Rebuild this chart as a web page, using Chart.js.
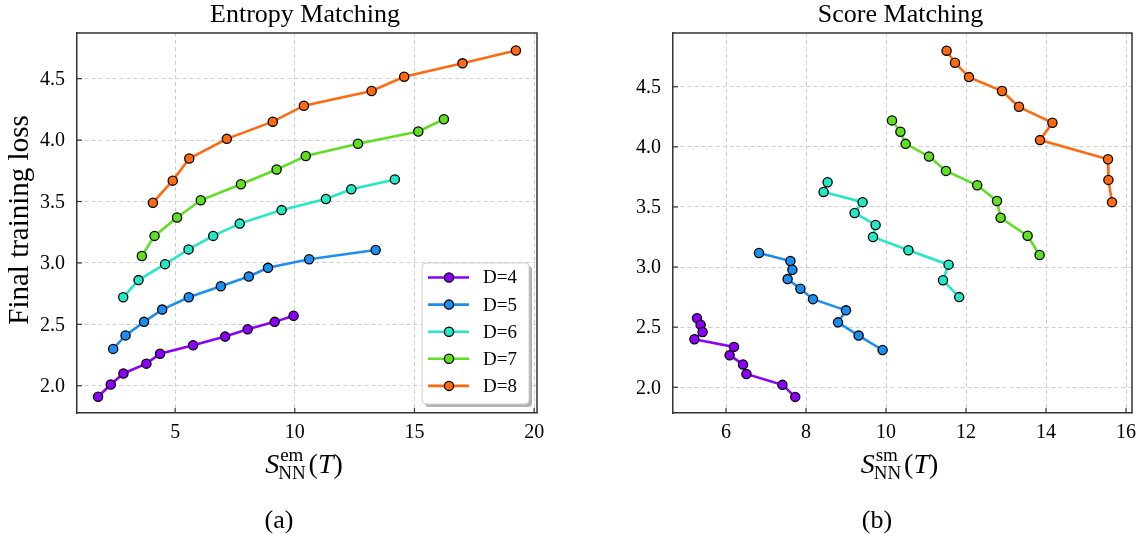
<!DOCTYPE html>
<html>
<head>
<meta charset="utf-8">
<script src="https://cdn.jsdelivr.net/npm/chart.js@4.4.0/dist/chart.umd.min.js"></script>
<style>
  html, body { margin: 0; padding: 0; background: #fff; }
  #wrap { position: relative; width: 1145px; height: 542px; }
  canvas { position: absolute; top: 0; }
</style>
</head>
<body>
<div id="wrap">
  <canvas id="chartEm" width="572" height="542" style="left:0"></canvas>
  <canvas id="chartSm" width="573" height="542" style="left:572px"></canvas>
</div>
<script>
// series names and colours (D = depth)
const seriesLabels = ["D=4", "D=5", "D=6", "D=7", "D=8"];
const seriesColors = ["#8a00fb", "#1b8fef", "#22e8c6", "#5fdf22", "#ff6a10"];

// (a) entropy matching: S_NN^em(T) vs final loss
const emX4 = [1.78, 2.31, 2.84, 3.80, 4.37, 5.75, 7.09, 8.03, 9.16, 9.95];
const emY4 = [1.91, 2.01, 2.10, 2.18, 2.26, 2.33, 2.40, 2.46, 2.52, 2.57];
const emX5 = [2.41, 2.93, 3.70, 4.46, 5.57, 6.91, 8.08, 8.88, 10.60, 13.38];
const emY5 = [2.30, 2.41, 2.52, 2.62, 2.72, 2.81, 2.89, 2.96, 3.03, 3.105];
const emX6 = [2.83, 3.47, 4.58, 5.56, 6.59, 7.70, 9.45, 11.30, 12.36, 14.18];
const emY6 = [2.72, 2.86, 2.99, 3.11, 3.22, 3.32, 3.43, 3.52, 3.60, 3.68];
const emX7 = [3.61, 4.14, 5.08, 6.07, 7.75, 9.24, 10.46, 12.64, 15.16, 16.23];
const emY7 = [3.056, 3.22, 3.37, 3.51, 3.64, 3.76, 3.87, 3.97, 4.07, 4.17];
const emX8 = [4.07, 4.90, 5.59, 7.16, 9.08, 10.38, 13.21, 14.57, 17.01, 19.24];
const emY8 = [3.49, 3.67, 3.85, 4.01, 4.15, 4.28, 4.40, 4.516, 4.625, 4.73];

// (b) score matching: S_NN^sm(T) vs final loss
const smX4 = [5.275, 5.365, 5.415, 5.21, 6.20, 6.09, 6.425, 6.51, 7.41, 7.73];
const smY4 = [2.575, 2.52, 2.46, 2.40, 2.336, 2.267, 2.19, 2.11, 2.02, 1.92];
const smX5 = [6.825, 7.61, 7.66, 7.54, 7.86, 8.175, 9.0, 8.80, 9.315, 9.915];
const smY5 = [3.117, 3.05, 2.978, 2.90, 2.82, 2.733, 2.64, 2.54, 2.43, 2.31];
const smX6 = [8.54, 8.44, 9.415, 9.215, 9.74, 9.675, 10.56, 11.565, 11.425, 11.83];
const smY6 = [3.706, 3.625, 3.54, 3.45, 3.35, 3.25, 3.14, 3.02, 2.89, 2.75];
const smX7 = [10.15, 10.36, 10.49, 11.075, 11.50, 12.28, 12.775, 12.865, 13.54, 13.84];
const smY7 = [4.22, 4.125, 4.025, 3.92, 3.80, 3.68, 3.55, 3.41, 3.26, 3.10];
const smX8 = [11.515, 11.725, 12.075, 12.90, 13.325, 14.16, 13.85, 15.55, 15.56, 15.65];
const smY8 = [4.80, 4.70, 4.58, 4.464, 4.333, 4.20, 4.056, 3.897, 3.725, 3.54];

// tick values
const emXTicks = [5, 10, 15, 20];
const smXTicks = [6, 8, 10, 12, 14, 16];
const yTicks = [2.0, 2.5, 3.0, 3.5, 4.0, 4.5];

const FONT = '"Liberation Serif", "Times New Roman", serif';
Chart.defaults.font.family = FONT;

function buildDatasets(xs, ys) {
    return xs.map((xArr, i) => ({
        label: seriesLabels[i],
        data: xArr.map((x, j) => ({ x: x, y: ys[i][j] })),
        borderColor: seriesColors[i],
        backgroundColor: seriesColors[i],
        borderWidth: 2.6,
        pointRadius: 4.6,
        pointBorderWidth: 1.3,
        pointBorderColor: "#000",
        pointBackgroundColor: seriesColors[i],
        tension: 0,
    }));
}

// S_NN^{sup}(T) with sub/superscripts
function drawMathLabel(ctx, cx, base, sup) {
    const big = `28px ${FONT}`;
    const bigIt = `italic 28px ${FONT}`;
    const small = `19px ${FONT}`;
    ctx.font = bigIt;
    const wS = ctx.measureText("S").width;
    const wT = ctx.measureText("T").width;
    ctx.font = small;
    const wScript = Math.max(ctx.measureText("NN").width, ctx.measureText(sup).width);
    ctx.font = big;
    const wL = ctx.measureText("(").width;
    const wR = ctx.measureText(")").width;
    const total = wS + wScript + 2 + wL + wT + wR;
    let x = cx - total / 2;
    ctx.fillStyle = "#000";
    ctx.textAlign = "left";
    ctx.textBaseline = "alphabetic";
    ctx.font = bigIt;
    ctx.fillText("S", x, base);
    x += wS;
    ctx.font = small;
    ctx.fillText("NN", x - 1, base + 6);
    ctx.fillText(sup, x + 1, base - 12);
    x += wScript + 2;
    ctx.font = big;
    ctx.fillText("(", x, base);
    x += wL;
    ctx.font = bigIt;
    ctx.fillText("T", x, base);
    x += wT;
    ctx.font = big;
    ctx.fillText(")", x, base);
}

function roundRectPath(ctx, x, y, w, h, r) {
    ctx.beginPath();
    ctx.moveTo(x + r, y);
    ctx.lineTo(x + w - r, y);
    ctx.quadraticCurveTo(x + w, y, x + w, y + r);
    ctx.lineTo(x + w, y + h - r);
    ctx.quadraticCurveTo(x + w, y + h, x + w - r, y + h);
    ctx.lineTo(x + r, y + h);
    ctx.quadraticCurveTo(x, y + h, x, y + h - r);
    ctx.lineTo(x, y + r);
    ctx.quadraticCurveTo(x, y, x + r, y);
    ctx.closePath();
}

function drawLegend(ctx, chart) {
    const x0 = 422, y0 = 263, w = 107, h = 141;
    ctx.save();
    ctx.fillStyle = "rgba(0,0,0,0.3)";
    roundRectPath(ctx, x0 + 3, y0 + 3, w, h, 4);
    ctx.fill();
    ctx.fillStyle = "#fff";
    roundRectPath(ctx, x0, y0, w, h, 4);
    ctx.fill();
    ctx.strokeStyle = "#d0d0d0";
    ctx.lineWidth = 1;
    ctx.stroke();
    chart.data.datasets.forEach((ds, i) => {
        const yy = 277.5 + i * 27.1;
        ctx.strokeStyle = ds.borderColor;
        ctx.lineWidth = 2.6;
        ctx.beginPath();
        ctx.moveTo(428, yy);
        ctx.lineTo(469, yy);
        ctx.stroke();
        ctx.beginPath();
        ctx.arc(449, yy, 4.6, 0, Math.PI * 2);
        ctx.fillStyle = ds.backgroundColor;
        ctx.fill();
        ctx.strokeStyle = "#000";
        ctx.lineWidth = 1.3;
        ctx.stroke();
        ctx.fillStyle = "#000";
        ctx.font = `19px ${FONT}`;
        ctx.textAlign = "left";
        ctx.textBaseline = "middle";
        ctx.fillText(ds.label, 483, yy + 1);
    });
    ctx.restore();
}

// frame, inward ticks, tick labels, titles and captions
const decorations = {
    id: "decorations",
    afterDatasetsDraw(chart, args, opts) {
        const ctx = chart.ctx;
        const a = chart.chartArea;
        const sx = chart.scales.x;
        const sy = chart.scales.y;
        ctx.save();
        ctx.strokeStyle = "#333";
        ctx.lineWidth = 1.5;
        ctx.beginPath();
        ctx.moveTo(a.left, a.top);
        ctx.lineTo(a.right, a.top);
        ctx.lineTo(a.right, a.bottom);
        ctx.stroke();

        ctx.lineWidth = 1.2;
        ctx.fillStyle = "#000";
        ctx.font = `20px ${FONT}`;
        sx.ticks.forEach((t) => {
            const px = sx.getPixelForValue(t.value);
            ctx.beginPath();
            ctx.moveTo(px, a.bottom);
            ctx.lineTo(px, a.bottom - 5);
            ctx.stroke();
            ctx.textAlign = "center";
            ctx.textBaseline = "middle";
            ctx.fillText(String(t.value), px, a.bottom + 20);
        });
        sy.ticks.forEach((t) => {
            const py = sy.getPixelForValue(t.value);
            ctx.beginPath();
            ctx.moveTo(a.left, py);
            ctx.lineTo(a.left + 5, py);
            ctx.stroke();
            ctx.textAlign = "right";
            ctx.textBaseline = "middle";
            ctx.fillText(t.value.toFixed(1), a.left - 12, py + 1);
        });

        const cx = (a.left + a.right) / 2;
        ctx.textAlign = "center";
        ctx.textBaseline = "middle";
        ctx.font = `26px ${FONT}`;
        ctx.fillText(opts.title, cx - 2, 15);
        drawMathLabel(ctx, cx - 3, 473, opts.sup);
        ctx.font = `26px ${FONT}`;
        ctx.textAlign = "center";
        ctx.textBaseline = "middle";
        ctx.fillText(opts.caption, opts.captionX, 521);

        if (opts.yTitle) {
            ctx.save();
            ctx.translate(20, 220);
            ctx.rotate(-Math.PI / 2);
            ctx.font = `29px ${FONT}`;
            ctx.fillText(opts.yTitle, 0, 0);
            ctx.restore();
        }
        if (opts.legend) drawLegend(ctx, chart);
        ctx.restore();
    },
};

function makeChart(canvas, datasets, cfg) {
    return new Chart(canvas, {
        type: "line",
        data: { datasets: datasets },
        plugins: [decorations],
        options: {
            responsive: false,
            animation: false,
            devicePixelRatio: 1,
            layout: { padding: { left: 0, right: cfg.padRight, top: 33, bottom: 0 } },
            plugins: {
                legend: { display: false },
                title: { display: false },
                tooltip: { enabled: false },
                decorations: cfg.deco,
            },
            scales: {
                x: {
                    type: "linear",
                    min: cfg.xMin,
                    max: cfg.xMax,
                    afterBuildTicks: (s) => { s.ticks = cfg.xTicks.map((v) => ({ value: v })); },
                    afterFit: (s) => { s.height = 129; },
                    grid: { color: "#cfcfcf", lineWidth: 1, drawTicks: false },
                    border: { display: true, color: "#333", width: 1.5, dash: [4, 3] },
                    ticks: { display: false },
                },
                y: {
                    type: "linear",
                    min: cfg.yMin,
                    max: cfg.yMax,
                    afterBuildTicks: (s) => { s.ticks = yTicks.map((v) => ({ value: v })); },
                    afterFit: (s) => { s.width = cfg.yWidth; },
                    grid: { color: "#cfcfcf", lineWidth: 1, drawTicks: false },
                    border: { display: true, color: "#333", width: 1.5, dash: [4, 3] },
                    ticks: { display: false },
                },
            },
        },
    });
}

makeChart(
    document.getElementById("chartEm"),
    buildDatasets([emX4, emX5, emX6, emX7, emX8], [emY4, emY5, emY6, emY7, emY8]),
    {
        padRight: 35, yWidth: 77,
        xMin: 0.9, xMax: 20.12, yMin: 1.778, yMax: 4.872,
        xTicks: emXTicks,
        deco: { title: "Entropy Matching", sup: "em", caption: "(a)", captionX: 279, yTitle: "Final training loss", legend: true },
    }
);

makeChart(
    document.getElementById("chartSm"),
    buildDatasets([smX4, smX5, smX6, smX7, smX8], [smY4, smY5, smY6, smY7, smY8]),
    {
        padRight: 13, yWidth: 101,
        xMin: 4.675, xMax: 16.15, yMin: 1.786, yMax: 4.947,
        xTicks: smXTicks,
        deco: { title: "Score Matching", sup: "sm", caption: "(b)", captionX: 305, yTitle: null, legend: false },
    }
);
</script>
</body>
</html>
